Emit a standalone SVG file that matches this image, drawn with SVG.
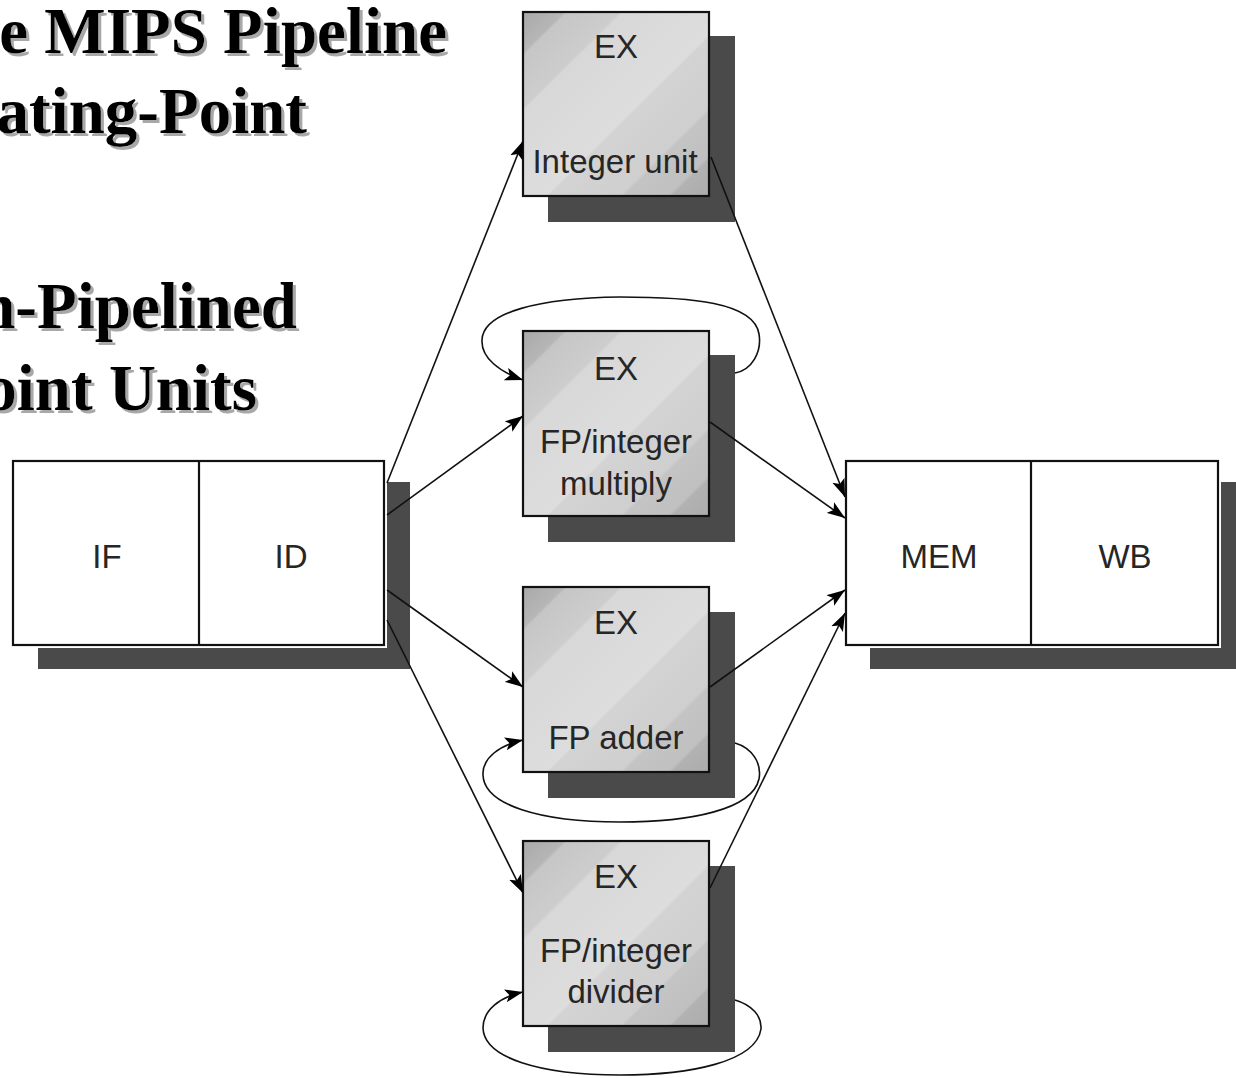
<svg xmlns="http://www.w3.org/2000/svg" width="1236" height="1078" viewBox="0 0 1236 1078">
  <style>
    .title { font-family: "Liberation Serif", "Times New Roman", serif; font-weight: bold; font-size: 65px; fill: #000; text-anchor: end; }
    .lbl { font-family: "Liberation Sans", Arial, sans-serif; font-size: 33px; fill: #262626; text-anchor: middle; }
    .shadow { fill: #4a4a4a; }
    .stage { fill: #fff; stroke: #111; stroke-width: 2.2; }
    .gap { fill: none; stroke: #fff; stroke-width: 6; }
    .ex { fill: url(#exGrad); stroke: #111; stroke-width: 2.2; }
    .div { stroke: #111; stroke-width: 2.2; }
    .conn { fill: none; stroke: #111; stroke-width: 1.6; }
  </style>
  <defs>
    <filter id="titleShadow" x="-5%" y="-20%" width="115%" height="150%">
      <feOffset in="SourceAlpha" dx="3" dy="3" result="off"/>
      <feFlood flood-color="#a8a8a8"/>
      <feComposite in2="off" operator="in" result="sh"/>
      <feMerge>
        <feMergeNode in="sh"/>
        <feMergeNode in="SourceGraphic"/>
      </feMerge>
    </filter>
    <linearGradient id="exGrad" x1="0" y1="0" x2="1" y2="1">
      <stop offset="0" stop-color="#a9a9a9"/>
      <stop offset="0.11" stop-color="#b6b6b6"/>
      <stop offset="0.12" stop-color="#c6c6c6"/>
      <stop offset="0.26" stop-color="#cdcdcd"/>
      <stop offset="0.27" stop-color="#d8d8d8"/>
      <stop offset="0.56" stop-color="#dddddd"/>
      <stop offset="0.57" stop-color="#d3d3d3"/>
      <stop offset="0.76" stop-color="#cfcfcf"/>
      <stop offset="0.77" stop-color="#c4c4c4"/>
      <stop offset="0.89" stop-color="#c0c0c0"/>
      <stop offset="0.9" stop-color="#b2b2b2"/>
      <stop offset="1" stop-color="#acacac"/>
    </linearGradient>
    <marker id="arrow" markerUnits="userSpaceOnUse" markerWidth="20" markerHeight="14" refX="18" refY="7" orient="auto">
      <path d="M0,0.5 L18,7 L0,13.5 L4,7 z" fill="#000"/>
    </marker>
  </defs>

  <g id="title" filter="url(#titleShadow)">
    <text class="title" x="447" y="53">e MIPS Pipeline</text>
    <text class="title" x="307" y="133">ating-Point</text>
    <text class="title" x="297" y="328">n-Pipelined</text>
    <text class="title" x="257" y="410">oint Units</text>
  </g>

  <g id="node-if-id">
    <rect class="shadow" x="38" y="482" width="372" height="187"/>
    <rect class="gap" x="13" y="461" width="371" height="184"/>
    <rect class="stage" x="13" y="461" width="371" height="184"/>
    <line class="div" x1="199" y1="461" x2="199" y2="645"/>
    <text class="lbl" x="107" y="568">IF</text>
    <text class="lbl" x="291" y="568">ID</text>
  </g>

  <g id="node-mem-wb">
    <rect class="shadow" x="870" y="482" width="370" height="187"/>
    <rect class="gap" x="846" y="461" width="372" height="184"/>
    <rect class="stage" x="846" y="461" width="372" height="184"/>
    <line class="div" x1="1031" y1="461" x2="1031" y2="645"/>
    <text class="lbl" x="939" y="568">MEM</text>
    <text class="lbl" x="1125" y="568">WB</text>
  </g>

  <g id="node-ex-integer">
    <rect class="shadow" x="548" y="36" width="187" height="186"/>
    <rect class="ex" x="523" y="12" width="186" height="184"/>
    <text class="lbl" x="616" y="58">EX</text>
    <text class="lbl" x="615" y="173">Integer unit</text>
  </g>

  <g id="node-ex-multiply">
    <rect class="shadow" x="548" y="355" width="187" height="187"/>
    <rect class="ex" x="523" y="331" width="186" height="185"/>
    <text class="lbl" x="616" y="380">EX</text>
    <text class="lbl" x="616" y="453">FP/integer</text>
    <text class="lbl" x="616" y="495">multiply</text>
  </g>

  <g id="node-ex-adder">
    <rect class="shadow" x="548" y="612" width="187" height="186"/>
    <rect class="ex" x="523" y="587" width="186" height="185"/>
    <text class="lbl" x="616" y="634">EX</text>
    <text class="lbl" x="616" y="749">FP adder</text>
  </g>

  <g id="node-ex-divider">
    <rect class="shadow" x="548" y="866" width="187" height="186"/>
    <rect class="ex" x="523" y="841" width="186" height="185"/>
    <text class="lbl" x="616" y="888">EX</text>
    <text class="lbl" x="616" y="962">FP/integer</text>
    <text class="lbl" x="616" y="1003">divider</text>
  </g>

  <g id="connectors">
    <line class="conn" x1="387" y1="483" x2="523" y2="141" marker-end="url(#arrow)"/>
    <line class="conn" x1="387" y1="515" x2="523" y2="416" marker-end="url(#arrow)"/>
    <line class="conn" x1="387" y1="590" x2="523" y2="687" marker-end="url(#arrow)"/>
    <line class="conn" x1="387" y1="620" x2="523" y2="893" marker-end="url(#arrow)"/>
    <line class="conn" x1="711" y1="157" x2="845" y2="497" marker-end="url(#arrow)"/>
    <line class="conn" x1="710" y1="422" x2="845" y2="518" marker-end="url(#arrow)"/>
    <line class="conn" x1="710" y1="687" x2="845" y2="590" marker-end="url(#arrow)"/>
    <line class="conn" x1="710" y1="888" x2="845" y2="613" marker-end="url(#arrow)"/>
    <path class="conn" d="M735 373 C752 370 762 352 759 334 C754 302 690 297 620 297 C540 298 483 312 482 340 C481 358 500 372 523 380" marker-end="url(#arrow)"/>
    <path class="conn" d="M735 743 C752 748 762 763 759 779 C752 810 690 822 620 822 C540 822 484 805 483 775 C482 758 500 745 523 740" marker-end="url(#arrow)"/>
    <path class="conn" d="M735 1000 C752 1005 762 1016 761 1029 C756 1062 690 1075 620 1075 C540 1075 484 1058 483 1028 C483 1010 500 997 523 992" marker-end="url(#arrow)"/>
  </g>
</svg>
